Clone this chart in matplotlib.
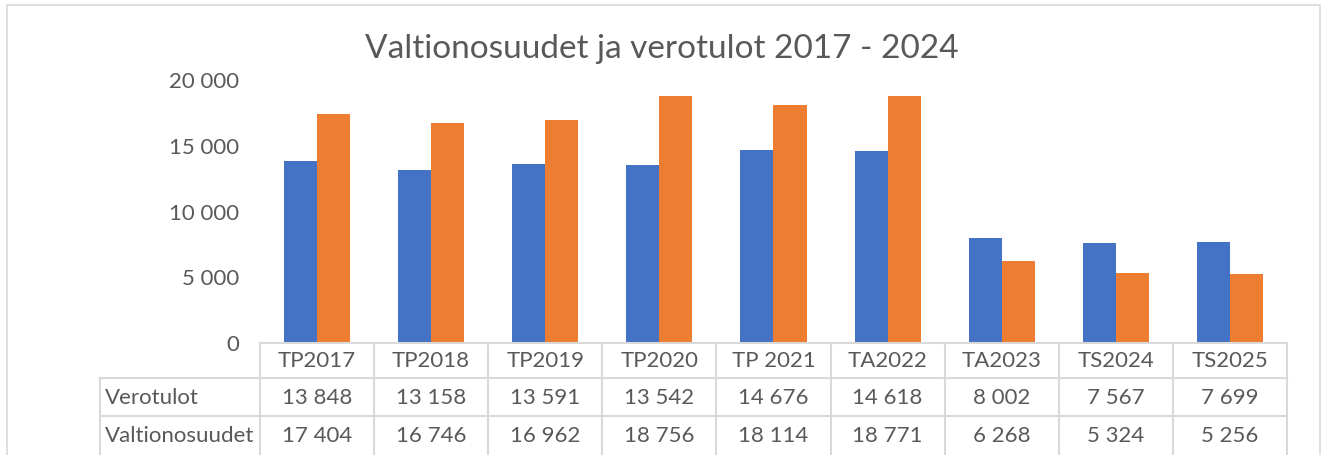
import matplotlib.pyplot as plt
import numpy as np
from matplotlib.transforms import blended_transform_factory
from matplotlib.patches import Rectangle
from matplotlib.lines import Line2D

categories = ["TP2017", "TP2018", "TP2019", "TP2020", "TP 2021", "TA2022", "TA2023", "TS2024", "TS2025"]
verotulot = [13848, 13158, 13591, 13542, 14676, 14618, 8002, 7567, 7699]
valtionosuudet = [17404, 16746, 16962, 18756, 18114, 18771, 6268, 5324, 5256]
row_names = ["Verotulot", "Valtionosuudet"]

BLUE = "#4472C4"
ORANGE = "#ED7D31"
TXT = "#595959"
GRID = "#D9D9D9"

plt.rcParams['font.family'] = ['Lato', 'DejaVu Sans']

W, H = 1323, 455
fig = plt.figure(figsize=(W / 100, H / 100), dpi=100)

def fx(px):
    return px / W

def fy(py):
    return 1 - py / H

# chart border
fig.add_artist(Rectangle((fx(7), fy(458)), fx(1313), fy(5) - fy(458), transform=fig.transFigure,
                         fill=False, edgecolor=GRID, linewidth=1.2))

ax = fig.add_axes([fx(260), fy(343), fx(1287) - fx(260), fy(80) - fy(343)])
x = np.arange(len(categories))
w = 0.29
ax.bar(x - w / 2, verotulot, w, color=BLUE)
ax.bar(x + w / 2, valtionosuudet, w, color=ORANGE)
ax.set_xlim(-0.5, len(categories) - 0.5)
ax.set_ylim(0, 20000)
ax.set_yticks(range(0, 20001, 5000))
ax.set_yticklabels([f"{v:,}".replace(",", " ") for v in range(0, 20001, 5000)])
ax.tick_params(axis="y", length=0, labelsize=16, labelcolor=TXT, pad=15)
ax.set_xticks([])
for s in ax.spines.values():
    s.set_visible(False)
ax.patch.set_alpha(0)

fig.text(0.5, fy(49), "Valtionosuudet ja verotulot 2017 - 2024", ha="center", va="center",
         fontsize=24, color=TXT)

# data table
tr = blended_transform_factory(ax.transData, fig.transFigure)
n = len(categories)
row_y = [343, 378, 416, 460]

fig.add_artist(Line2D([-0.5, n - 0.5], [fy(row_y[0]), fy(row_y[0])], transform=tr, color=GRID, linewidth=1.5))
for py in row_y[1:3]:
    fig.add_artist(Line2D([fx(100), fx(1287)], [fy(py), fy(py)], transform=fig.transFigure,
                          color=GRID, linewidth=1.5))
for b in np.arange(-0.5, n, 1.0):
    fig.add_artist(Line2D([b, b], [fy(row_y[0]), fy(row_y[3])], transform=tr, color=GRID, linewidth=1.5))
fig.add_artist(Line2D([fx(100), fx(100)], [fy(row_y[1]), fy(row_y[3])], transform=fig.transFigure,
                      color=GRID, linewidth=1.5))

for i, c in enumerate(categories):
    fig.text(i, fy(361), c, transform=tr, ha="center", va="center", fontsize=16, color=TXT)
    fig.text(i, fy(398), f"{verotulot[i]:,}".replace(",", " "), transform=tr,
             ha="center", va="center", fontsize=16, color=TXT)
    fig.text(i, fy(436), f"{valtionosuudet[i]:,}".replace(",", " "), transform=tr,
             ha="center", va="center", fontsize=16, color=TXT)
fig.text(fx(105), fy(398), row_names[0], ha="left", va="center", fontsize=16, color=TXT)
fig.text(fx(105), fy(436), row_names[1], ha="left", va="center", fontsize=16, color=TXT)

fig.savefig("out.png", dpi=100)
